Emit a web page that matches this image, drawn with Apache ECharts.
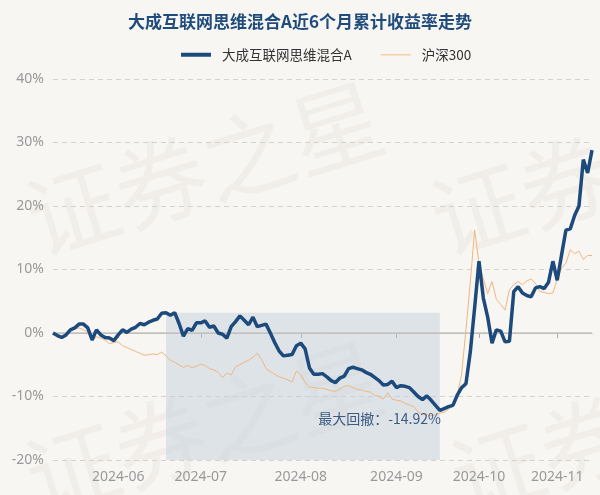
<!DOCTYPE html>
<html>
<head>
<meta charset="utf-8">
<script src="https://cdn.jsdelivr.net/npm/echarts@6/dist/echarts.min.js"></script>
<style>
html,body{margin:0;padding:0;background:#f8f6f2;}
#c{width:600px;height:495px;}
</style>
</head>
<body>
<div id="c"></div>
<script>
const titleText = '大成互联网思维混合A近6个月累计收益率走势';
const fundName = '大成互联网思维混合A';
const indexName = '沪深300';
const drawdownText = '最大回撤：-14.92%';

const dates = [
'2024-05-13','2024-05-14','2024-05-15','2024-05-16','2024-05-17','2024-05-20','2024-05-21','2024-05-22','2024-05-23','2024-05-24','2024-05-27','2024-05-28','2024-05-29','2024-05-30','2024-05-31',
'2024-06-03','2024-06-04','2024-06-05','2024-06-06','2024-06-07','2024-06-11','2024-06-12','2024-06-13','2024-06-14','2024-06-17','2024-06-18','2024-06-19','2024-06-20','2024-06-21','2024-06-24','2024-06-25','2024-06-26','2024-06-27','2024-06-28',
'2024-07-01','2024-07-02','2024-07-03','2024-07-04','2024-07-05','2024-07-08','2024-07-09','2024-07-10','2024-07-11','2024-07-12','2024-07-15','2024-07-16','2024-07-17','2024-07-18','2024-07-19','2024-07-22','2024-07-23','2024-07-24','2024-07-25','2024-07-26','2024-07-29','2024-07-30','2024-07-31',
'2024-08-01','2024-08-02','2024-08-05','2024-08-06','2024-08-07','2024-08-08','2024-08-09','2024-08-12','2024-08-13','2024-08-14','2024-08-15','2024-08-16','2024-08-19','2024-08-20','2024-08-21','2024-08-22','2024-08-23','2024-08-26','2024-08-27','2024-08-28','2024-08-29','2024-08-30',
'2024-09-02','2024-09-03','2024-09-04','2024-09-05','2024-09-06','2024-09-09','2024-09-10','2024-09-11','2024-09-12','2024-09-13','2024-09-18','2024-09-19','2024-09-20','2024-09-23','2024-09-24','2024-09-25','2024-09-26','2024-09-27','2024-09-30',
'2024-10-08','2024-10-09','2024-10-10','2024-10-11','2024-10-14','2024-10-15','2024-10-16','2024-10-17','2024-10-18','2024-10-21','2024-10-22','2024-10-23','2024-10-24','2024-10-25','2024-10-28','2024-10-29','2024-10-30','2024-10-31',
'2024-11-01','2024-11-04','2024-11-05','2024-11-06','2024-11-07','2024-11-08','2024-11-11','2024-11-12','2024-11-13'
];

const fundValues = [
0,-0.4,-0.7,-0.3,0.5,0.8,1.4,1.4,0.8,-1.1,0.5,-0.3,-0.7,-0.8,-1.2,
-0.3,0.5,0.1,0.6,0.9,1.5,1.3,1.7,2.0,2.2,3.1,3.2,2.8,3.2,1.5,-0.5,0.7,0.4,1.6,
1.6,1.9,0.9,1.1,0.0,-0.2,-0.8,1.0,1.8,2.7,2.0,1.3,2.5,1.0,1.2,1.4,0.0,-1.5,-2.8,-3.6,-3.5,-3.4,-2.0,
-1.6,-2.5,-5.5,-6.5,-6.5,-6.4,-6.9,-7.5,-7.8,-7.1,-6.8,-5.6,-5.4,-5.6,-5.8,-6.2,-6.5,-7.0,-7.5,-8.2,-8.1,-7.6,
-8.6,-8.3,-8.4,-8.6,-9.3,-10.0,-10.5,-9.9,-10.6,-11.4,-12.2,-11.9,-11.6,-11.4,-9.8,-8.6,-8.0,-3.0,4.0,
11.3,5.5,2.5,-1.6,0.5,0.3,-1.4,-1.3,6.5,7.3,6.3,5.9,5.7,7.1,7.3,7.0,8.0,11.3,
8.3,12.3,16.2,16.4,18.5,20.0,27.3,25.2,28.8
];

const indexValues = [
0,-0.3,-0.5,-0.2,0.4,0.6,0.8,0.5,0.2,-1.2,-0.6,-0.8,-1.1,-1.7,-1.5,
-1.4,-2.0,-2.3,-2.6,-2.9,-3.2,-3.5,-3.4,-3.3,-3.4,-3.0,-3.6,-4.3,-4.6,-5.0,-5.4,-5.1,-5.5,-5.2,
-4.9,-5.1,-5.6,-5.8,-6.2,-7.0,-6.3,-6.6,-5.3,-5.0,-4.6,-4.3,-3.8,-3.2,-4.2,-5.6,-6.1,-6.5,-6.9,-7.1,-7.4,-7.7,-6.0,
-6.6,-7.8,-8.5,-8.6,-8.7,-8.7,-8.9,-9.1,-9.2,-8.8,-8.4,-8.3,-8.6,-8.9,-9.0,-9.2,-9.3,-9.8,-10.0,-10.4,-9.4,-10.4,
-10.6,-10.7,-11.1,-11.3,-11.6,-12.4,-12.8,-12.9,-13.0,-12.9,-12.6,-12.5,-12.0,-11.5,-9.8,-6.5,0.5,8.0,16.2,
11.0,8.5,6.2,8.1,5.3,4.5,3.6,6.8,7.6,8.1,7.6,8.2,8.5,7.8,6.5,6.4,6.2,6.3,
8.5,10.2,11.0,13.1,12.5,12.9,11.6,12.2,12.2
];

const yTicks = { min: -20, max: 40, interval: 10 };
const drawdownStartIdx = 26;
const drawdownEndIdx = 89;

const isMonthStart = function (idx) {
  return idx > 0 && dates[idx].slice(0, 7) !== dates[idx - 1].slice(0, 7);
};

const fundColor = '#1c4a7c';
const indexColor = '#f0b680';

const chart = echarts.init(document.getElementById('c'), null, { renderer: 'canvas' });
const wmStyle = { text: '证券之星', fontSize: 92, fill: 'rgba(120,110,100,0.055)', fontFamily: 'Noto Sans CJK SC' };
chart.setOption({
  backgroundColor: '#f8f6f2',
  animation: false,
  graphic: [
    { type: 'text', left: 15, top: 70, rotation: 0.3, silent: true, z: -10, style: wmStyle },
    { type: 'text', left: 15, top: 330, rotation: 0.3, silent: true, z: -10, style: wmStyle },
    { type: 'text', left: 420, top: 70, rotation: 0.3, silent: true, z: -10, style: wmStyle },
    { type: 'text', left: 440, top: 330, rotation: 0.3, silent: true, z: -10, style: wmStyle }
  ],
  title: {
    text: titleText,
    left: 'center',
    top: 8,
    textStyle: { fontSize: 17, fontWeight: 'bold', color: '#1f4c7c', fontFamily: 'Noto Sans CJK SC' }
  },
  legend: {
    top: 43,
    left: 176,
    itemWidth: 30,
    itemHeight: 18,
    itemGap: 29,
    textStyle: { fontSize: 13.5, color: '#333', fontFamily: 'Noto Sans CJK SC', padding: [0, 0, 0, 6] },
    data: [
      { name: fundName, icon: 'path://M0,0L30,0L30,4L0,4Z', itemStyle: { color: fundColor } },
      { name: indexName, icon: 'path://M0,0L30,0L30,1.5L0,1.5Z', itemStyle: { color: '#f3cfa8' } }
    ]
  },
  grid: { left: 53, right: 8, top: 79, bottom: 35 },
  xAxis: {
    type: 'category',
    data: dates,
    boundaryGap: false,
    axisLine: { lineStyle: { color: '#aaa' } },
    axisTick: { interval: isMonthStart, length: 5, lineStyle: { color: '#aaa' } },
    axisLabel: {
      interval: isMonthStart,
      formatter: function (v) { return v.slice(0, 7); },
      color: '#999', fontSize: 14, margin: 10, fontFamily: 'Noto Sans'
    },
    splitLine: { show: false }
  },
  yAxis: {
    type: 'value',
    min: yTicks.min, max: yTicks.max, interval: yTicks.interval,
    axisLine: { show: false },
    axisTick: { show: false },
    axisLabel: { formatter: '{value}%', color: '#999', fontSize: 14, margin: 9, fontFamily: 'Noto Sans' },
    splitLine: { lineStyle: { type: [5, 4], color: '#d4d2cf' } }
  },
  series: [
    {
      name: indexName,
      type: 'line',
      data: indexValues,
      showSymbol: false,
      symbol: 'none',
      lineStyle: { width: 1, color: indexColor },
      itemStyle: { color: indexColor },
      z: 3
    },
    {
      name: fundName,
      type: 'line',
      data: fundValues,
      showSymbol: false,
      symbol: 'none',
      lineStyle: { width: 3.5, color: fundColor },
      itemStyle: { color: fundColor },
      z: 4,
      markLine: {
        silent: true, symbol: 'none', label: { show: false },
        lineStyle: { type: 'solid', color: '#c9c5c0', width: 1.5 },
        data: [{ yAxis: 0 }],
        z: 1
      },
      markArea: {
        silent: true,
        itemStyle: { color: 'rgba(190,205,220,0.45)' },
        data: [[
          { xAxis: drawdownStartIdx, yAxis: fundValues[drawdownStartIdx] },
          { xAxis: drawdownEndIdx, yAxis: yTicks.min }
        ]]
      },
      markPoint: {
        silent: true,
        symbol: 'circle',
        symbolSize: 1,
        itemStyle: { color: 'rgba(0,0,0,0)' },
        label: {
          show: true, position: 'inside', align: 'right', verticalAlign: 'top',
          offset: [1, 1],
          formatter: drawdownText,
          color: '#3b5b82', fontSize: 14, fontFamily: 'Noto Sans CJK SC'
        },
        data: [{ coord: [drawdownEndIdx, fundValues[drawdownEndIdx]] }]
      }
    }
  ]
});
</script>
</body>
</html>
